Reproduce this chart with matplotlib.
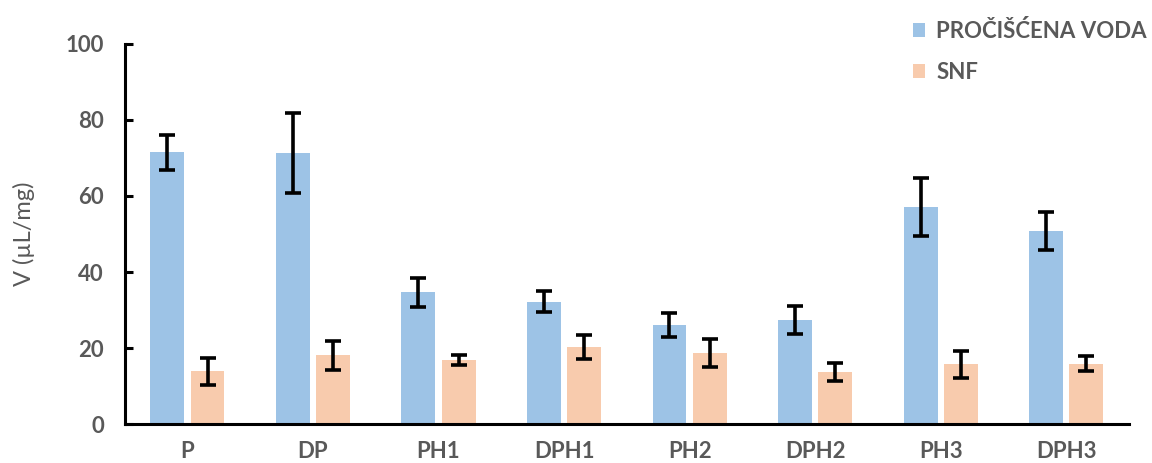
import matplotlib.pyplot as plt
import numpy as np

plt.rcParams['font.family'] = ['Lato', 'DejaVu Sans']

categories = ['P', 'DP', 'PH1', 'DPH1', 'PH2', 'DPH2', 'PH3', 'DPH3']
voda = [71.5, 71.4, 34.7, 32.2, 26.1, 27.4, 57.1, 50.9]
voda_err = [4.6, 10.5, 3.8, 2.8, 3.2, 3.7, 7.7, 5.0]
snf = [13.9, 18.1, 16.8, 20.2, 18.7, 13.7, 15.7, 15.9]
snf_err = [3.6, 3.8, 1.3, 3.1, 3.7, 2.3, 3.5, 1.9]

grey = '#595959'
blue = '#9DC3E6'
peach = '#F8CBAD'

fig = plt.figure(figsize=(11.52, 4.63), dpi=100)
ax = fig.add_axes([0.1082, 0.0842, 0.8718, 0.8208])

x = np.arange(len(categories))
w = 0.27
off = 0.16
err_kw = dict(ecolor='black', elinewidth=2.6, capsize=5.5, capthick=2.6)
ax.bar(x - off, voda, w, color=blue, yerr=voda_err, error_kw=err_kw,
       label='PROČIŠĆENA VODA')
ax.bar(x + off, snf, w, color=peach, yerr=snf_err, error_kw=err_kw,
       label='SNF')

ax.set_xlim(-0.5, len(categories) - 0.5)
ax.set_ylim(0, 100)
ax.set_yticks([0, 20, 40, 60, 80, 100])
ax.set_xticks(x)
ax.set_xticklabels(categories)

for s in ['top', 'right']:
    ax.spines[s].set_visible(False)
for s in ['left', 'bottom']:
    ax.spines[s].set_linewidth(2.2)

ax.tick_params(axis='y', direction='in', length=6, width=2.2, labelsize=16,
               labelcolor=grey, pad=15)
ax.tick_params(axis='x', length=0, labelsize=16, labelcolor=grey, pad=12)
for t in ax.get_xticklabels() + ax.get_yticklabels():
    t.set_fontweight('bold')

ax.set_ylabel('V (µL/mg)', fontsize=17, color=grey, labelpad=22)

leg = fig.legend(loc='upper right', bbox_to_anchor=(1.013, 1.0), frameon=False,
                 handlelength=0.55, handleheight=0.55, handletextpad=0.5,
                 labelspacing=0.9, fontsize=16)
for t in leg.get_texts():
    t.set_color(grey)
    t.set_fontweight('bold')

fig.savefig('out.png', dpi=100)
